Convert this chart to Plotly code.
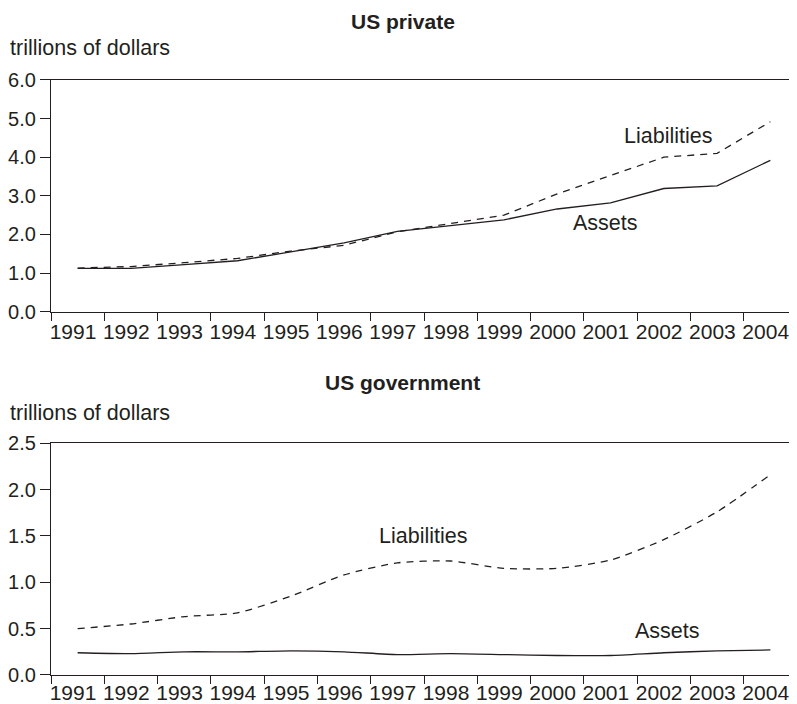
import plotly.graph_objects as go

years = list(range(1991, 2005))
private_assets = [1.12, 1.12, 1.22, 1.32, 1.55, 1.78, 2.08, 2.23, 2.38, 2.66, 2.82, 3.19, 3.26, 3.92]
private_liabilities = [1.13, 1.17, 1.27, 1.38, 1.57, 1.72, 2.07, 2.29, 2.50, 3.05, 3.52, 4.00, 4.10, 4.92]
gov_assets = [0.24, 0.23, 0.25, 0.25, 0.26, 0.25, 0.22, 0.23, 0.22, 0.21, 0.21, 0.24, 0.26, 0.27]
gov_liabilities = [0.50, 0.55, 0.63, 0.67, 0.85, 1.08, 1.21, 1.23, 1.15, 1.15, 1.24, 1.46, 1.76, 2.16]
tick_labels = [str(y) for y in years]
panel_titles = ["US private", "US government"]
unit_label = "trillions of dollars"

xpos = [y + 0.5 for y in years]
INK = "#231f20"
FONT = "Liberation Sans, Arial, Helvetica, sans-serif"
FS = 21.5

fig = go.Figure()
fig.add_trace(go.Scatter(x=xpos, y=private_assets, mode="lines", xaxis="x", yaxis="y",
                         line=dict(color=INK, width=1.3), showlegend=False))
fig.add_trace(go.Scatter(x=xpos, y=private_liabilities, mode="lines", xaxis="x", yaxis="y",
                         line=dict(color=INK, width=1.3, dash="7px,6px"), showlegend=False))
fig.add_trace(go.Scatter(x=xpos, y=gov_assets, mode="lines", xaxis="x2", yaxis="y2",
                         line=dict(color=INK, width=1.3, shape="spline", smoothing=0.6), showlegend=False))
fig.add_trace(go.Scatter(x=xpos, y=gov_liabilities, mode="lines", xaxis="x2", yaxis="y2",
                         line=dict(color=INK, width=1.3, dash="7px,6px", shape="spline", smoothing=0.6),
                         showlegend=False))

xcommon = dict(range=[1991, 2005], tickmode="array", tickvals=years, ticktext=tick_labels,
               ticks="outside", ticklen=8, tickwidth=1, tickcolor=INK,
               showline=True, linecolor=INK, linewidth=1.3, mirror=True,
               showgrid=False, zeroline=False, ticklabelshift=22,
               automargin=False,
               tickfont=dict(family=FONT, size=21, color=INK), domain=[0, 1])
ycommon = dict(ticks="outside", ticklen=10, tickwidth=1, tickcolor=INK,
               showline=True, linecolor=INK, linewidth=1.3, automargin=False,
               showgrid=False, zeroline=False, tickfont=dict(family=FONT, size=20, color=INK))

W, H = 789, 696
fig.update_layout(
    template="none",
    width=W, height=H,
    margin=dict(l=43, r=0, t=0, b=0, pad=0),
    paper_bgcolor="white", plot_bgcolor="white",
    font=dict(family=FONT, size=FS, color=INK),
    xaxis=dict(**xcommon, anchor="y", ticklabelstandoff=-7),
    yaxis=dict(**ycommon, range=[0, 6], dtick=1, tickformat=".1f", domain=[0.5636, 0.8966], anchor="x"),
    xaxis2=dict(**xcommon, anchor="y2", ticklabelstandoff=-9),
    yaxis2=dict(**ycommon, range=[0, 2.5], dtick=0.5, tickformat=".1f", domain=[0.0417, 0.3746], anchor="x2"),
)

ann = []
ann.append(dict(text="<b>%s</b>" % panel_titles[0], xref="paper", yref="paper", x=0.4718, y=1.0,
                showarrow=False, xanchor="center", yanchor="top", font=dict(size=21)))
ann.append(dict(text="<b>%s</b>" % panel_titles[1], xref="paper", yref="paper", x=0.4718, y=0.4626,
                showarrow=False, xanchor="center", yanchor="middle", font=dict(size=21)))
ann.append(dict(text=unit_label, xref="paper", yref="paper", x=-43 / 746, y=0.9425,
                showarrow=False, xanchor="left", yanchor="middle", font=dict(size=FS)))
ann.append(dict(text=unit_label, xref="paper", yref="paper", x=-43 / 746, y=0.4181,
                showarrow=False, xanchor="left", yanchor="middle", font=dict(size=FS)))
ann.append(dict(text="Liabilities", xref="x", yref="y", x=2002.57, y=4.55, showarrow=False,
                xanchor="center", yanchor="middle", font=dict(size=FS)))
ann.append(dict(text="Assets", xref="x", yref="y", x=2001.41, y=2.31, showarrow=False,
                xanchor="center", yanchor="middle", font=dict(size=FS)))
ann.append(dict(text="Liabilities", xref="x2", yref="y2", x=1997.98, y=1.50, showarrow=False,
                xanchor="center", yanchor="middle", font=dict(size=FS)))
ann.append(dict(text="Assets", xref="x2", yref="y2", x=2002.57, y=0.47, showarrow=False,
                xanchor="center", yanchor="middle", font=dict(size=FS)))
fig.update_layout(annotations=ann)

fig.write_html("out.html")
